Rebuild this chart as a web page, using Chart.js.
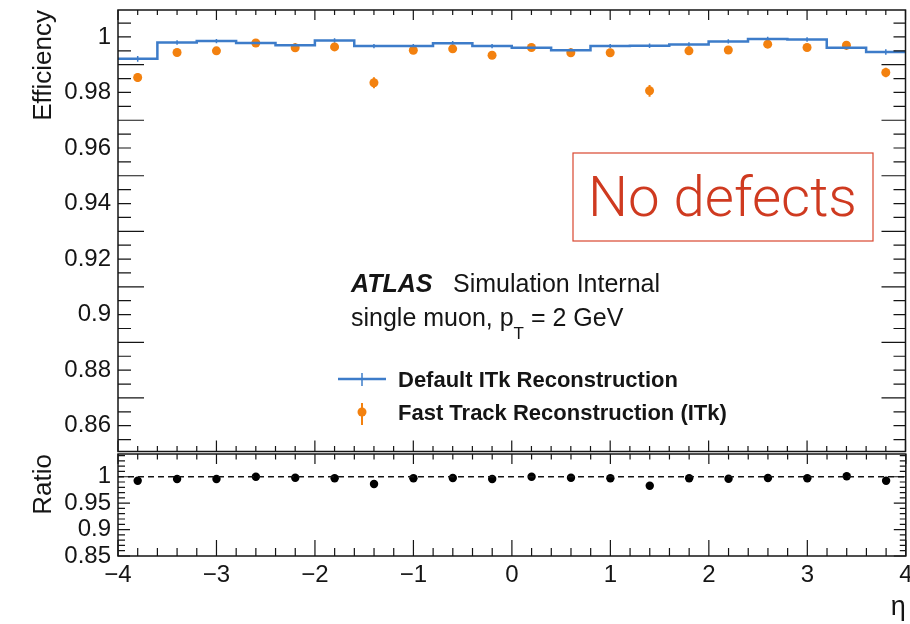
<!DOCTYPE html>
<html>
<head>
<meta charset="utf-8">
<script src="https://cdn.jsdelivr.net/npm/chart.js@4/dist/chart.umd.min.js"></script>
<style>
  body { margin: 0; background: #fff; }
  #wrap { position: relative; width: 910px; height: 624px; overflow: hidden; }
  canvas { position: absolute; left: 0; }
  #effCanvas { top: 0; }
  #ratioCanvas { top: 444px; }
</style>
</head>
<body>
<div id="wrap">
  <canvas id="effCanvas" width="910" height="456"></canvas>
  <canvas id="ratioCanvas" width="910" height="180"></canvas>
</div>
<script>
// --- data (eta bins of width 0.4) ---
var etaCenters = [-3.8, -3.4, -3.0, -2.6, -2.2, -1.8, -1.4, -1.0, -0.6, -0.2,
                  0.2, 0.6, 1.0, 1.4, 1.8, 2.2, 2.6, 3.0, 3.4, 3.8];
var binWidth = 0.4;

var effDefault = [0.9921, 0.9980, 0.9985, 0.9978, 0.9970, 0.9987, 0.9967, 0.9967, 0.9977, 0.9967,
                  0.9961, 0.9952, 0.9967, 0.9968, 0.9973, 0.9984, 0.9993, 0.9991, 0.9961, 0.9946];
var effDefaultErr = [0.0010, 0.0008, 0.0008, 0.0008, 0.0008, 0.0008, 0.0008, 0.0008, 0.0008, 0.0008,
                     0.0008, 0.0008, 0.0008, 0.0008, 0.0008, 0.0008, 0.0008, 0.0008, 0.0008, 0.0010];

var effFast = [0.9854, 0.9944, 0.9950, 0.9978, 0.9961, 0.9964, 0.9835, 0.9952, 0.9957, 0.9934,
               0.9962, 0.9943, 0.9943, 0.9806, 0.9950, 0.9953, 0.9974, 0.9962, 0.9970, 0.9872];
var effFastErr = [0.0016, 0.0010, 0.0010, 0.0010, 0.0010, 0.0010, 0.0020, 0.0010, 0.0010, 0.0010,
                  0.0010, 0.0010, 0.0010, 0.0021, 0.0010, 0.0010, 0.0010, 0.0010, 0.0010, 0.0017];

var ratio = [0.9924, 0.9957, 0.9957, 1.0000, 0.9981, 0.9970, 0.9862, 0.9970, 0.9975, 0.9957,
             1.0000, 0.9981, 0.9970, 0.9830, 0.9970, 0.9962, 0.9975, 0.9970, 1.0008, 0.9924];

var xTicks = [-4, -3, -2, -1, 0, 1, 2, 3, 4];
var xTickLabels = ['\u22124', '\u22123', '\u22122', '\u22121', '0', '1', '2', '3', '4'];
var effTicks = [0.86, 0.88, 0.90, 0.92, 0.94, 0.96, 0.98, 1.0];
var effTickLabels = ['0.86', '0.88', '0.9', '0.92', '0.94', '0.96', '0.98', '1'];
var ratioTicks = [0.85, 0.90, 0.95, 1.0];
var ratioTickLabels = ['0.85', '0.9', '0.95', '1'];
var ratioRef = 1;

var FONT = '"Liberation Sans", Arial, Helvetica, sans-serif';
var BLUE = '#3d7cc9';
var ORANGE = '#f3810f';
var INK = '#151515';

// ROOT-like frame: box round the chart area and ticks pointing inwards
function rootFrame(cfg) {
    return {
        id: 'rootFrame',
        afterDraw: function(chart) {
            var ctx = chart.ctx, a = chart.chartArea;
            var xs = chart.scales.x, ys = chart.scales.y;
            ctx.save();
            ctx.strokeStyle = INK;
            ctx.lineWidth = 1.2;
            ctx.beginPath();
            var n = Math.round((xs.max - xs.min) / cfg.xMinor);
            for (var i = 0; i <= n; i++) {
                var v = xs.min + i * cfg.xMinor;
                var major = i % cfg.xPerMajor === 0;
                var px = xs.getPixelForValue(v);
                var lt = major ? cfg.top[0] : cfg.top[1];
                var lb = major ? cfg.bottom[0] : cfg.bottom[1];
                ctx.moveTo(px, a.top); ctx.lineTo(px, a.top + lt);
                ctx.moveTo(px, a.bottom); ctx.lineTo(px, a.bottom - lb);
            }
            var m = Math.floor((ys.max - cfg.yStart) / cfg.yMinor + 1e-6);
            for (var j = 0; j <= m; j++) {
                var yv = cfg.yStart + j * cfg.yMinor;
                if (yv < ys.min) continue;
                var ymajor = j % cfg.yPerMajor === 0;
                var py = ys.getPixelForValue(yv);
                var ll = ymajor ? cfg.left[0] : cfg.left[1];
                var lr = ymajor ? cfg.right[0] : cfg.right[1];
                ctx.moveTo(a.left, py); ctx.lineTo(a.left + ll, py);
                ctx.moveTo(a.right, py); ctx.lineTo(a.right - lr, py);
            }
            ctx.stroke();
            ctx.lineWidth = 1.5;
            ctx.strokeRect(a.left, a.top, a.right - a.left, a.bottom - a.top);
            ctx.restore();
        }
    };
}

// vertical error bars drawn through the library scales
function errorBars(sets) {
    return {
        id: 'errorBars',
        beforeDatasetsDraw: function(chart) {
            var ctx = chart.ctx, xs = chart.scales.x, ys = chart.scales.y;
            ctx.save();
            sets.forEach(function(s) {
                ctx.strokeStyle = s.color;
                ctx.lineWidth = s.width;
                ctx.beginPath();
                s.x.forEach(function(xv, i) {
                    var px = xs.getPixelForValue(xv);
                    ctx.moveTo(px, ys.getPixelForValue(s.y[i] - s.err[i]));
                    ctx.lineTo(px, ys.getPixelForValue(s.y[i] + s.err[i]));
                });
                ctx.stroke();
            });
            ctx.restore();
        }
    };
}

// labels, legend and the red note
var atlasText = {
    id: 'atlasText',
    afterDraw: function(chart) {
        var ctx = chart.ctx;
        ctx.save();
        ctx.fillStyle = INK;
        ctx.textBaseline = 'alphabetic';
        ctx.textAlign = 'left';
        ctx.font = 'italic bold 25px ' + FONT;
        ctx.fillText('ATLAS', 351, 292);
        ctx.font = '25px ' + FONT;
        ctx.fillText('Simulation Internal', 453, 292);

        var x = 351;
        ctx.fillText('single muon, p', x, 326);
        x += ctx.measureText('single muon, p').width;
        ctx.font = '17px ' + FONT;
        ctx.fillText('T', x, 339);
        x += ctx.measureText('T').width;
        ctx.font = '25px ' + FONT;
        ctx.fillText(' = 2 GeV', x, 326);

        // legend entries
        ctx.strokeStyle = BLUE;
        ctx.lineWidth = 2.5;
        ctx.beginPath(); ctx.moveTo(338, 379); ctx.lineTo(386, 379); ctx.stroke();
        ctx.lineWidth = 1.5;
        ctx.beginPath(); ctx.moveTo(362, 373); ctx.lineTo(362, 386); ctx.stroke();
        ctx.strokeStyle = ORANGE;
        ctx.lineWidth = 2;
        ctx.beginPath(); ctx.moveTo(362, 403); ctx.lineTo(362, 425); ctx.stroke();
        ctx.fillStyle = ORANGE;
        ctx.beginPath(); ctx.arc(362, 412, 4.5, 0, Math.PI * 2); ctx.fill();

        ctx.fillStyle = INK;
        ctx.font = 'bold 22px ' + FONT;
        ctx.fillText('Default ITk Reconstruction', 398, 387);
        ctx.fillText('Fast Track Reconstruction (ITk)', 398, 420);

        // red boxed note
        ctx.strokeStyle = '#d9472f';
        ctx.lineWidth = 1.2;
        ctx.strokeRect(573, 153, 300, 88);
        ctx.fillStyle = '#cf3a20';
        var size = 56;
        ctx.font = '300 ' + size + 'px Roboto, "Open Sans", ' + FONT;
        size = size * 269 / ctx.measureText('No defects').width;
        ctx.font = '300 ' + size.toFixed(1) + 'px Roboto, "Open Sans", ' + FONT;
        ctx.fillText('No defects', 588, 216);
        ctx.restore();
    }
};

function drawEfficiencyChart() {
    // histogram outline: one point per bin low edge, plus the last high edge
    var stepData = etaCenters.map(function(c, i) {
        return { x: c - binWidth / 2, y: effDefault[i] };
    });
    var last = etaCenters.length - 1;
    stepData.push({ x: etaCenters[last] + binWidth / 2, y: effDefault[last] });

    var fastPoints = etaCenters.map(function(c, i) { return { x: c, y: effFast[i] }; });

    var ctx = document.getElementById('effCanvas').getContext('2d');
    return new Chart(ctx, {
        type: 'scatter',
        data: {
            datasets: [{
                type: 'line',
                label: 'Default ITk Reconstruction',
                data: stepData,
                stepped: 'before',
                borderColor: BLUE,
                borderWidth: 2.5,
                pointRadius: 0,
                fill: false
            }, {
                label: 'Fast Track Reconstruction (ITk)',
                data: fastPoints,
                backgroundColor: ORANGE,
                borderColor: ORANGE,
                borderWidth: 0,
                pointRadius: 4.5
            }]
        },
        options: {
            responsive: false,
            animation: false,
            devicePixelRatio: 1,
            layout: { padding: { top: 10, right: 3, bottom: 2, left: 0 } },
            plugins: { legend: { display: false }, tooltip: { enabled: false } },
            scales: {
                x: { type: 'linear', min: -4, max: 4, display: false },
                y: {
                    min: 0.8507,
                    max: 1.0097,
                    afterBuildTicks: function(s) { s.ticks = effTicks.map(function(v) { return { value: v }; }); },
                    afterFit: function(s) { s.width = 118; s.paddingTop = 0; s.paddingBottom = 0; },
                    grid: { display: false, drawTicks: false },
                    border: { display: false },
                    ticks: {
                        autoSkip: false,
                        padding: 7,
                        color: INK,
                        font: { family: FONT, size: 24 },
                        callback: function(v, i) { return effTickLabels[i]; }
                    },
                    title: {
                        display: true,
                        text: 'Efficiency',
                        align: 'end',
                        color: INK,
                        font: { family: FONT, size: 26 },
                        padding: { top: 28, bottom: 0 }
                    }
                }
            }
        },
        plugins: [
            errorBars([
                { x: etaCenters, y: effDefault, err: effDefaultErr, color: BLUE, width: 1.5 },
                { x: etaCenters, y: effFast, err: effFastErr, color: ORANGE, width: 2 }
            ]),
            rootFrame({ xMinor: 0.2, xPerMajor: 5, top: [10, 5], bottom: [11, 5.5],
                        yStart: 0.85, yMinor: 0.005, yPerMajor: 4, left: [26, 13], right: [24, 12] }),
            atlasText
        ]
    });
}

function drawRatioChart() {
    var ratioPoints = etaCenters.map(function(c, i) { return { x: c, y: ratio[i] }; });
    var refLine = [{ x: xTicks[0], y: ratioRef }, { x: xTicks[xTicks.length - 1], y: ratioRef }];

    var ctx = document.getElementById('ratioCanvas').getContext('2d');
    return new Chart(ctx, {
        type: 'scatter',
        data: {
            datasets: [{
                type: 'line',
                label: 'ref',
                data: refLine,
                borderColor: INK,
                borderWidth: 1.3,
                borderDash: [6, 4],
                pointRadius: 0,
                fill: false
            }, {
                label: 'Ratio',
                data: ratioPoints,
                backgroundColor: '#000',
                borderWidth: 0,
                pointRadius: 4.2
            }]
        },
        options: {
            responsive: false,
            animation: false,
            devicePixelRatio: 1,
            layout: { padding: { top: 10, right: 3, bottom: 0, left: 0 } },
            plugins: { legend: { display: false }, tooltip: { enabled: false } },
            scales: {
                x: {
                    type: 'linear',
                    min: -4,
                    max: 4,
                    afterBuildTicks: function(s) { s.ticks = xTicks.map(function(v) { return { value: v }; }); },
                    afterFit: function(s) { s.height = 68; s.paddingLeft = 0; s.paddingRight = 0; },
                    grid: { display: false, drawTicks: false },
                    border: { display: false },
                    ticks: {
                        autoSkip: false,
                        maxRotation: 0,
                        padding: 5,
                        color: INK,
                        font: { family: FONT, size: 24 },
                        callback: function(v, i) { return xTickLabels[i]; }
                    },
                    title: {
                        display: true,
                        text: '\u03b7',
                        align: 'end',
                        color: INK,
                        font: { family: FONT, size: 27 },
                        padding: { top: 0, bottom: 0 }
                    }
                },
                y: {
                    min: 0.85,
                    max: 1.043,
                    afterBuildTicks: function(s) { s.ticks = ratioTicks.map(function(v) { return { value: v }; }); },
                    afterFit: function(s) { s.width = 118; s.paddingTop = 0; s.paddingBottom = 0; },
                    grid: { display: false, drawTicks: false },
                    border: { display: false },
                    ticks: {
                        autoSkip: false,
                        padding: 7,
                        color: INK,
                        font: { family: FONT, size: 24 },
                        callback: function(v, i) { return ratioTickLabels[i]; }
                    },
                    title: {
                        display: true,
                        text: 'Ratio',
                        align: 'end',
                        color: INK,
                        font: { family: FONT, size: 26 },
                        padding: { top: 28, bottom: 0 }
                    }
                }
            }
        },
        plugins: [
            rootFrame({ xMinor: 0.2, xPerMajor: 5, top: [10, 5.5], bottom: [16, 8],
                        yStart: 0.85, yMinor: 0.01, yPerMajor: 5, left: [12, 7], right: [12, 6] })
        ]
    });
}

drawEfficiencyChart();
drawRatioChart();
</script>
</body>
</html>
